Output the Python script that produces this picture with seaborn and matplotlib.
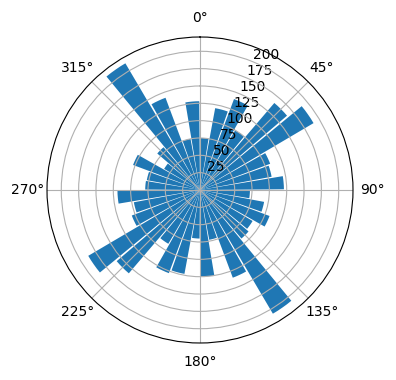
import numpy as np
import matplotlib
matplotlib.use("Agg")
import matplotlib.pyplot as plt
import seaborn as sns

# bar directions (degrees, clockwise from north) and counts
directions = [5, 15, 25, 35, 45, 55, 65, 75, 85,
              95, 105, 115, 125, 135, 145, 155, 165, 175,
              185, 195, 205, 215, 225, 235, 245, 255, 265,
              275, 285, 295, 305, 315, 325, 335, 345, 355]
counts = [75, 120, 140, 100, 165, 190, 108, 105, 121,
          72, 94, 107, 88, 92, 207, 135, 73, 125,
          70, 123, 128, 90, 158, 187, 105, 97, 119,
          79, 78, 103, 60, 81, 212, 142, 75, 128]
bar_width_deg = 9
r_ticks = [25, 50, 75, 100, 125, 150, 175, 200]

sns.reset_orig()
plt.rcParams['font.family'] = ['DejaVu Sans']

fig = plt.figure(figsize=(3.96, 3.80), dpi=100)
ax = fig.add_axes([47 / 396, 37 / 380, 306 / 396, 306 / 380], projection='polar')
ax.set_theta_zero_location('N')
ax.set_theta_direction(-1)
ax.bar(np.deg2rad(directions), counts, width=np.deg2rad(bar_width_deg),
       color='#1f77b4')
ax.set_yticks(r_ticks)
ax.set_ylim(0, 220.6)
ax.grid(True)
ax.tick_params(labelsize=10)
fig.savefig('out.png', dpi=100)
